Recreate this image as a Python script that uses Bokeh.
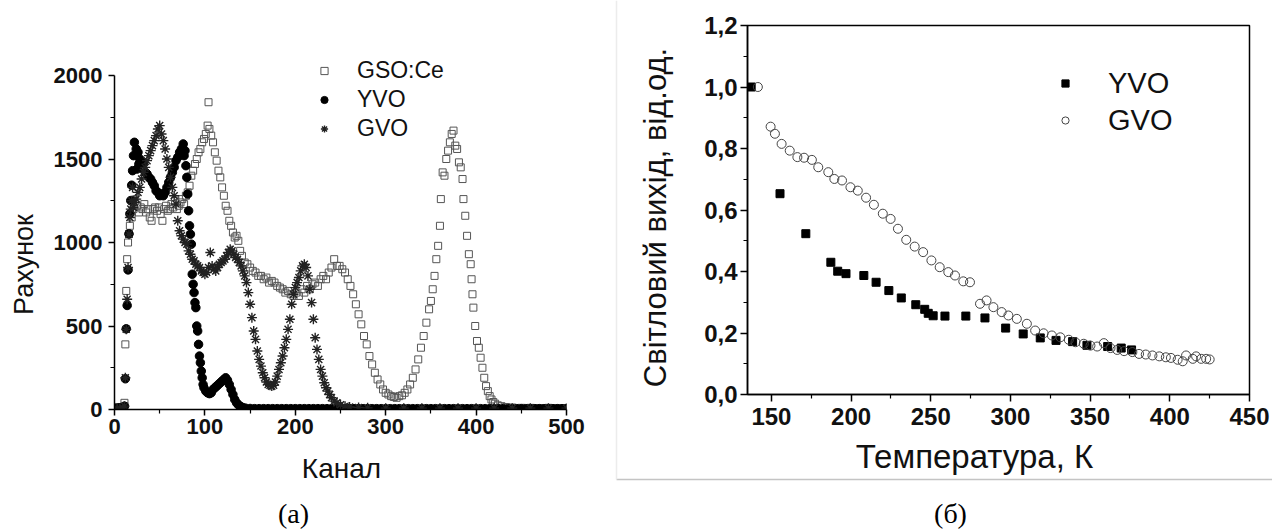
import math
from bokeh.plotting import figure
from bokeh.models import (Range1d, FixedTicker, Legend, LegendItem, Label, CustomJSTickFormatter)
from bokeh.embed import file_html
from bokeh.resources import INLINE

# ---------------- panel (a): spectra ----------------
gso_ch = [0, 3, 6, 9, 11, 12, 13, 14, 15, 16, 17, 19, 21, 23, 25, 27, 29, 31, 33, 35, 37, 39, 41, 43, 45, 47, 49,
          51, 53, 55, 57, 59, 61, 63, 65, 67, 69, 71, 73, 75, 77, 79, 81, 83, 85, 87, 89, 91, 93, 95, 97, 99,
          101, 103, 104, 105, 107, 109, 111, 113, 115, 117, 119, 121, 123, 125, 127, 129, 131, 133, 135, 137,
          139, 141, 144, 147, 150, 153, 156, 159, 162, 165, 168, 171, 174, 177, 180, 183, 186, 189, 192, 195,
          198, 201, 204, 207, 210, 213, 216, 219, 222, 225, 228, 231, 234, 237, 240, 243, 246, 249, 252, 255,
          258, 261, 264, 267, 270, 273, 276, 279, 282, 285, 288, 291, 294, 297, 300, 303, 306, 309, 312, 315,
          318, 321, 324, 327, 330, 333, 336, 339, 342, 345, 348, 350, 352, 354, 356, 358, 360, 361, 363, 365,
          367, 369, 371, 373, 375, 377, 379, 381, 383, 385, 386, 388, 390, 392, 394, 395, 396, 397, 399, 401,
          403, 405, 407, 409, 411, 413, 415, 417, 419, 421, 424, 428, 433, 440, 450, 460, 470, 480, 490, 500]
gso_counts = [5, 5, 8, 15, 40, 390, 710, 900, 1000, 1050, 1100, 1150, 1200, 1250, 1220, 1180, 1210, 1200, 1230,
              1180, 1200, 1150, 1130, 1200, 1210, 1190, 1210, 1170, 1130, 1200, 1220, 1190, 1200, 1230, 1210,
              1250, 1200, 1220, 1240, 1260, 1230, 1280, 1300, 1340, 1400, 1430, 1470, 1500, 1540, 1560, 1600,
              1620, 1650, 1700, 1840, 1680, 1640, 1600, 1540, 1490, 1430, 1390, 1330, 1280, 1220, 1190, 1130,
              1100, 1060, 1030, 1040, 1010, 950, 920, 880, 870, 850, 830, 820, 800, 800, 780, 790, 760, 770,
              760, 740, 730, 720, 700, 710, 690, 680, 700, 680, 720, 700, 740, 720, 750, 760, 740, 780, 800,
              780, 820, 850, 900, 860, 860, 840, 820, 780, 740, 690, 630, 570, 510, 440, 390, 320, 270, 220,
              180, 150, 120, 100, 90, 80, 75, 70, 80, 85, 100, 120, 150, 190, 240, 300, 370, 440, 520, 600,
              650, 720, 800, 900, 980, 1100, 1260, 1420, 1400, 1500, 1550, 1600, 1650, 1670, 1580, 1560, 1480,
              1450, 1380, 1260, 1160, 1040, 930, 870, 780, 690, 610, 500, 410, 370, 310, 250, 190, 140, 110,
              80, 60, 45, 35, 25, 20, 15, 12, 10, 10, 8, 10, 8, 8]

yvo_ch = [0, 2, 4, 6, 8, 10, 11, 12, 13, 14, 15, 16, 17, 18, 19, 20, 21, 22, 24, 25, 26, 27, 28, 30, 32, 34, 36,
          38, 40, 42, 44, 46, 48, 50, 52, 54, 56, 58, 60, 62, 64, 66, 68, 70, 72, 74, 76, 77, 78, 79, 80, 81,
          82, 83, 84, 85, 86, 87, 88, 89, 90, 91, 92, 93, 94, 95, 96, 97, 98, 99, 101, 103, 105, 107, 109,
          111, 113, 115, 117, 119, 121, 123, 125, 127, 129, 131, 133, 135, 137, 139, 142,
          145, 150, 155, 160, 165, 170, 175, 180, 185, 190, 195, 200, 205, 210, 215, 220, 225, 230, 235,
          240, 245, 250, 255, 260, 265, 270, 275, 280, 285, 290, 295, 300, 305, 310, 315, 320, 325, 330,
          335, 340, 345, 350, 355, 360, 365, 370, 375, 380, 385, 390, 395, 400, 405, 410, 415, 420, 425,
          430, 435, 440, 445, 450, 455, 460, 465, 470, 475, 480, 485, 490, 495, 500]
yvo_counts = [8, 8, 9, 10, 10, 12, 20, 184, 483, 623, 836, 1052, 1172, 1251, 1343, 1430, 1520, 1600, 1560, 1440,
              1540, 1470, 1500, 1470, 1480, 1420, 1410, 1390, 1380, 1360, 1340, 1310, 1300, 1280, 1290, 1280,
              1300, 1330, 1360, 1390, 1420, 1450, 1490, 1510, 1540, 1560, 1590, 1520, 1550, 1460, 1390, 1290,
              1190, 1100, 1050, 990, 810, 750, 700, 640, 610, 500, 470, 390, 320, 280, 230, 190, 150, 130,
              110, 100, 95, 100, 120, 130, 140, 150, 160, 170, 180, 190, 175, 150, 120, 90, 60, 40, 28, 20, 12,
              8, 6, 5, 5, 5, 5, 5, 5, 5, 5, 5, 5, 5, 5, 5, 5, 5, 5, 5,
              5, 5, 5, 5, 5, 5, 5, 5, 5, 5, 5, 5, 5, 5, 5, 5, 5, 5, 5,
              5, 5, 5, 5, 5, 5, 5, 5, 5, 5, 5, 5, 5, 5, 5, 5, 5, 5,
              5, 5, 5, 5, 5, 5, 5, 5, 5, 5, 5, 5, 5, 5, 5, 5]

gvo_ch = [0, 3, 6, 9, 11, 12, 13, 14, 15, 16, 17, 18, 19, 20, 21, 22, 24, 26, 28, 30, 32, 34, 36, 38, 40, 42,
          44, 46, 48, 50, 52, 54, 56, 58, 60, 62, 64, 66, 68, 70, 72, 74, 76, 78, 80, 82, 84, 86, 88, 90, 92,
          94, 96, 98, 100, 102, 104, 106, 108, 110, 112, 114, 116, 118, 120, 122, 124, 126, 128, 130, 132,
          134, 136, 138, 140, 142, 144, 146, 148, 150, 152, 154, 156, 158, 160, 162, 164, 166, 168, 170,
          172, 174, 176, 178, 180, 182, 184, 186, 188, 190, 192, 194, 196, 198, 200, 202, 204, 206, 208,
          210, 212, 214, 216, 218, 220, 222, 224, 226, 228, 230, 232, 234, 236, 238, 240, 243, 246, 250,
          255, 260, 270, 280, 300, 320, 340, 360, 380, 400, 420, 440, 460, 480, 500]
gvo_counts = [5, 5, 8, 10, 20, 190, 480, 660, 850, 1050, 1150, 1200, 1250, 1330, 1210, 1240, 1260, 1300, 1330,
              1380, 1420, 1450, 1490, 1520, 1550, 1580, 1610, 1640, 1680, 1700, 1650, 1610, 1560, 1500, 1450,
              1390, 1330, 1280, 1230, 1130, 1070, 1040, 1020, 1000, 990, 950, 930, 900, 890, 870, 860, 850,
              830, 820, 810, 820, 850, 940, 860, 840, 830, 850, 870, 880, 890, 900, 920, 940, 960, 950, 930,
              910, 900, 880, 860, 830, 800, 760, 700, 630, 550, 470, 420, 350, 300, 260, 220, 190, 165, 150,
              145, 140, 145, 165, 200, 240, 280, 320, 370, 420, 480, 540, 630, 690, 730, 760, 790, 830, 860,
              870, 850, 800, 720, 640, 540, 430, 360, 300, 240, 200, 160, 130, 110, 90, 70, 50, 40, 28,
              20, 15, 12, 10, 8, 8, 8, 8, 8, 8, 8, 8, 8, 8, 8]

a_xticks = [0, 100, 200, 300, 400, 500]
a_xminor = [50, 150, 250, 350, 450]
a_yticks = [0, 500, 1000, 1500, 2000]
a_yminor = [250, 750, 1250, 1750]

# ---------------- panel (б): temperature dependence ----------------
yvo_T = [137.3, 155.4, 171.6, 187.3, 191.6, 196.8, 208.0, 215.7, 223.7, 231.5, 240.6, 246.2, 248.4, 251.5,
         258.9, 272.0, 284.0, 297.0, 308.0, 318.7, 328.6, 339.0, 348.0, 361.0, 369.5, 376.0]
yvo_LY = [1.0, 0.653, 0.523, 0.430, 0.401, 0.393, 0.387, 0.365, 0.338, 0.314, 0.292, 0.277, 0.264, 0.256,
          0.255, 0.255, 0.249, 0.216, 0.197, 0.184, 0.176, 0.172, 0.160, 0.156, 0.151, 0.145]

gvo_T = [141.5, 149.5, 152.2, 156.4, 161.5, 166.3, 170.5, 175.4, 179.4, 185.7, 189.5, 194.3, 199.6, 204.2,
         209.4, 214.3, 219.9, 224.8, 229.4, 234.6, 239.9, 245.2, 250.4, 255.6, 261.0, 265.2, 270.4, 274.6,
         280.9, 285.0, 289.3, 294.5, 298.7, 304.0, 310.3, 315.5, 320.8, 326.0, 331.3, 336.6, 340.8, 346.0,
         350.2, 354.4, 358.6, 362.8, 367.0, 371.3, 376.5, 380.7, 384.9, 389.1, 393.4, 397.5, 400.7, 404.9,
         408.1, 410.2, 414.4, 416.5, 419.7, 422.8, 425.0]
gvo_LY = [1.0, 0.871, 0.848, 0.815, 0.793, 0.772, 0.770, 0.763, 0.739, 0.723, 0.701, 0.696, 0.674, 0.663,
          0.640, 0.617, 0.588, 0.571, 0.539, 0.503, 0.481, 0.463, 0.436, 0.414, 0.398, 0.387, 0.368, 0.365,
          0.295, 0.306, 0.284, 0.268, 0.257, 0.246, 0.230, 0.208, 0.199, 0.192, 0.186, 0.178, 0.170, 0.165,
          0.159, 0.156, 0.167, 0.151, 0.145, 0.141, 0.138, 0.132, 0.130, 0.127, 0.124, 0.121, 0.119, 0.113,
          0.108, 0.127, 0.116, 0.124, 0.116, 0.116, 0.114]

b_xticks = [150, 200, 250, 300, 350, 400, 450]
b_xminor = [175, 225, 275, 325, 375, 425]
b_yticks = [0.0, 0.2, 0.4, 0.6, 0.8, 1.0, 1.2]
b_yminor = [0.1, 0.3, 0.5, 0.7, 0.9, 1.1]

SANS = "Liberation Sans"
SERIF = "Liberation Serif"


def style_axis(ax, size, tick_out):
    ax.axis_line_color = "black"
    ax.axis_line_width = 1.5
    ax.major_tick_line_color = "black"
    ax.major_tick_line_width = 1.5
    ax.minor_tick_line_color = "black"
    ax.minor_tick_line_width = 1.2
    ax.major_tick_in = 0
    ax.major_tick_out = tick_out
    ax.minor_tick_in = 0
    ax.minor_tick_out = 4
    ax.major_label_text_font = SANS
    ax.major_label_text_font_style = "bold"
    ax.major_label_text_font_size = size
    ax.major_label_text_color = "#111111"


# ---------- figure (a) ----------
# frame spans y = 25..409 px; counts 0..2000 occupy 409..75 px, so the range top is extended
p1 = figure(width=616, height=531, x_range=Range1d(0, 500), y_range=Range1d(0, 2000 * 384 / 334),
            output_backend="svg", toolbar_location=None,
            min_border_left=114, min_border_right=50, min_border_top=25, min_border_bottom=122,
            styles={"position": "absolute", "left": "0px", "top": "0px"})
p1.outline_line_color = None
p1.grid.visible = False
p1.xaxis.ticker = FixedTicker(ticks=a_xticks, minor_ticks=a_xminor)
p1.yaxis.ticker = FixedTicker(ticks=a_yticks, minor_ticks=a_yminor)
p1.yaxis.bounds = (0, 2000)
style_axis(p1.xaxis[0], "22px", 6)
style_axis(p1.yaxis[0], "22px", 6)
p1.xaxis.major_label_standoff = 3
p1.yaxis.major_label_standoff = 6

r_gso = p1.scatter(gso_ch, gso_counts, marker="square", size=7, fill_alpha=0,
                   line_color="#555555", line_width=1)
r_yvo = p1.scatter(yvo_ch, yvo_counts, marker="circle", size=8.5, fill_color="black", line_color="black")
r_gvo = p1.scatter(gvo_ch, gvo_counts, marker="asterisk", size=10, line_color="#222222", line_width=1.4)

leg1 = Legend(items=[LegendItem(label="GSO:Ce", renderers=[r_gso]),
                     LegendItem(label="YVO", renderers=[r_yvo]),
                     LegendItem(label="GVO", renderers=[r_gvo])],
              location=(201, 267), glyph_width=18, glyph_height=27, label_height=27,
              label_text_font=SANS, label_text_font_size="23px", label_text_color="#111111",
              label_standoff=24, spacing=2, padding=0, margin=0,
              border_line_color=None, background_fill_alpha=0)
p1.add_layout(leg1)

# ---------- figure (б) ----------
p2 = figure(width=656, height=531, x_range=Range1d(135, 450), y_range=Range1d(0, 1.2),
            output_backend="svg", toolbar_location=None,
            min_border_left=131, min_border_right=23, min_border_top=25, min_border_bottom=137,
            styles={"position": "absolute", "left": "616px", "top": "0px"})
p2.outline_line_color = "black"
p2.outline_line_width = 1.5
p2.grid.visible = False
p2.xaxis.ticker = FixedTicker(ticks=b_xticks, minor_ticks=b_xminor)
p2.yaxis.ticker = FixedTicker(ticks=b_yticks, minor_ticks=b_yminor)
p2.yaxis.formatter = CustomJSTickFormatter(code="return tick.toFixed(1).replace('.', ',');")
style_axis(p2.xaxis[0], "24px", 7)
style_axis(p2.yaxis[0], "24px", 7)
p2.xaxis.major_label_standoff = 6
p2.yaxis.major_label_standoff = 3

r_yvo2 = p2.scatter(yvo_T, yvo_LY, marker="square", size=8, fill_color="black", line_color="black")
r_gvo2 = p2.scatter(gvo_T, gvo_LY, marker="circle", size=9, fill_alpha=0, line_color="#444444",
                    line_width=1)

leg2 = Legend(items=[LegendItem(label="YVO", renderers=[r_yvo2]),
                     LegendItem(label="GVO", renderers=[r_gvo2])],
              location=(309, 257), glyph_width=18, glyph_height=34, label_height=34,
              label_text_font=SANS, label_text_font_size="29px", label_text_color="#111111",
              label_standoff=34, spacing=3, padding=0, margin=0,
              border_line_color=None, background_fill_alpha=0)
p2.add_layout(leg2)

# ---------- transparent text layer over both panels (pixel coordinates, y downwards) ----------
ov = figure(width=1272, height=531, x_range=Range1d(0, 1272), y_range=Range1d(531, 0),
            x_axis_type=None, y_axis_type=None, output_backend="svg", toolbar_location=None,
            min_border=0, outline_line_color=None, background_fill_color=None, border_fill_color=None,
            styles={"position": "absolute", "left": "0px", "top": "0px"})
ov.grid.visible = False

# faint frame of the inserted picture (б)
ov.segment(x0=[616, 616], y0=[479, 0], x1=[1272, 616], y1=[479, 479],
           line_color=["#c4c4c4", "#ececec"], line_width=1.5)


def txt(x, y, s, size, font=SANS, angle=0.0, color="#111111"):
    ov.add_layout(Label(x=x, y=y, text=s, angle=angle, text_align="center", text_baseline="middle",
                        text_font=font, text_font_size=size, text_color=color))


txt(23, 264, "Рахунок", "27px", angle=math.pi / 2)
txt(341, 468, "Канал", "28px")
txt(293, 513, "(a)", "28px", font=SERIF, color="black")
txt(655, 217, "Світловий вихід, від.од.", "31px", angle=math.pi / 2)
txt(974, 456, "Температура, К", "33px")
txt(950, 513, "(б)", "28px", font=SERIF, color="black")

open("out.html", "w").write(file_html([p1, p2, ov], INLINE))
